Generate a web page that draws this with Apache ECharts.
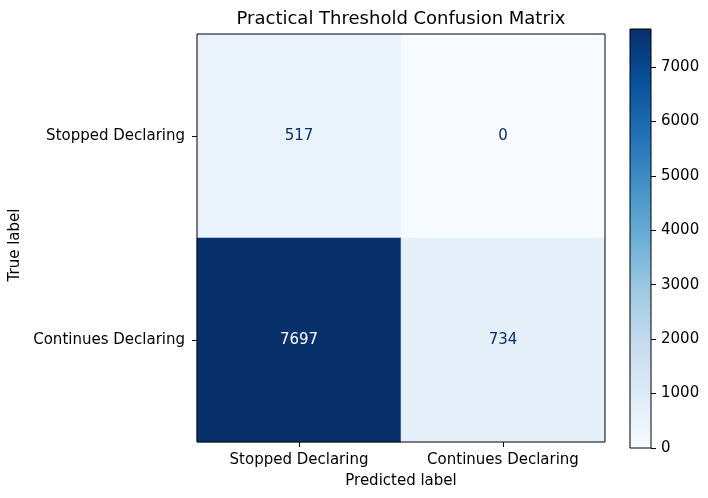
<!DOCTYPE html>
<html>
<head>
<meta charset="utf-8">
<script src="https://cdn.jsdelivr.net/npm/echarts@6/dist/echarts.min.js"></script>
<style>html,body{margin:0;padding:0;background:#fff}#c{width:708px;height:498px}</style>
</head>
<body>
<div id="c"></div>
<script>
const categories = ['Stopped Declaring', 'Continues Declaring'];
const row0 = [517, 0];      // True: Stopped Declaring
const row1 = [7697, 734];   // True: Continues Declaring
const colorbarTicks = [0, 1000, 2000, 3000, 4000, 5000, 6000, 7000];
const blues = ['#f7fbff','#deebf7','#c6dbef','#9ecae1','#6baed6','#4292c6','#2171b5','#08519c','#08306b'];

const rows = [row0, row1];
const all = rows.flat();
const vmax = Math.max(...all), vmin = Math.min(...all);
const thresh = (vmax + vmin) / 2;
const data = [];
rows.forEach((r, yi) => r.forEach((v, xi) => {
  data.push({ value: [xi, yi, v], label: { color: v > thresh ? '#ffffff' : '#08306b' } });
}));

const FONT = 'DejaVu Sans';
const FS = 15;
const gradient = new echarts.graphic.LinearGradient(0, 1, 0, 0,
  blues.map((c, i) => ({ offset: i / (blues.length - 1), color: c })));

const chart = echarts.init(document.getElementById('c'), null, { renderer: 'canvas' });
chart.setOption({
  animation: false,
  backgroundColor: '#fff',
  textStyle: { fontFamily: FONT },
  title: {
    text: 'Practical Threshold Confusion Matrix',
    left: 396, top: 5, textAlign: 'center',
    textStyle: { fontFamily: FONT, fontSize: 18, fontWeight: 'normal', color: '#000' }
  },
  grid: [
    { left: 197, top: 34, width: 408, height: 408, show: true, borderColor: '#000', borderWidth: 1, backgroundColor: 'transparent', z: 10, containLabel: false, outerBoundsMode: 'none' },
    { left: 630, top: 29, width: 21, height: 419, show: true, borderColor: '#000', borderWidth: 1, backgroundColor: 'transparent', z: 10, containLabel: false, outerBoundsMode: 'none' }
  ],
  xAxis: [
    {
      type: 'category', data: categories, gridIndex: 0, position: 'bottom',
      name: 'Predicted label', nameLocation: 'middle', nameGap: 32,
      nameTextStyle: { fontFamily: FONT, fontSize: FS, color: '#000' },
      axisLine: { show: false },
      axisTick: { show: true, alignWithLabel: true, length: 5, lineStyle: { color: '#000' } },
      axisLabel: { fontFamily: FONT, fontSize: FS, color: '#000', margin: 11 },
      splitLine: { show: false }
    },
    { type: 'category', data: ['cb'], gridIndex: 1, show: false, boundaryGap: true }
  ],
  yAxis: [
    {
      type: 'category', data: categories, gridIndex: 0, inverse: true,
      name: 'True label', nameLocation: 'middle', nameGap: 166, nameRotate: 90,
      nameTextStyle: { fontFamily: FONT, fontSize: FS, color: '#000', padding: [0, 14, 0, 0] },
      axisLine: { show: false },
      axisTick: { show: true, alignWithLabel: true, length: 5, lineStyle: { color: '#000' } },
      axisLabel: { fontFamily: FONT, fontSize: FS, color: '#000', margin: 12 },
      splitLine: { show: false }
    },
    {
      type: 'value', gridIndex: 1, position: 'right', min: 0, max: vmax,
      axisLine: { show: false },
      axisTick: { show: true, length: 5, lineStyle: { color: '#000' }, customValues: colorbarTicks },
      axisLabel: { fontFamily: FONT, fontSize: FS, color: '#000', margin: 10, customValues: colorbarTicks, formatter: v => String(v) },
      splitLine: { show: false }
    }
  ],
  visualMap: {
    type: 'continuous', min: 0, max: vmax, seriesIndex: 0, show: false,
    inRange: { color: blues }
  },
  series: [{
    type: 'heatmap', xAxisIndex: 0, yAxisIndex: 0, data: data,
    label: { show: true, fontFamily: FONT, fontSize: FS },
    itemStyle: { borderWidth: 0 },
    emphasis: { disabled: true }
  }, {
    type: 'bar', xAxisIndex: 1, yAxisIndex: 1, data: [vmax],
    barWidth: '100%', silent: true,
    itemStyle: { color: gradient }
  }]
});
</script>
</body>
</html>
